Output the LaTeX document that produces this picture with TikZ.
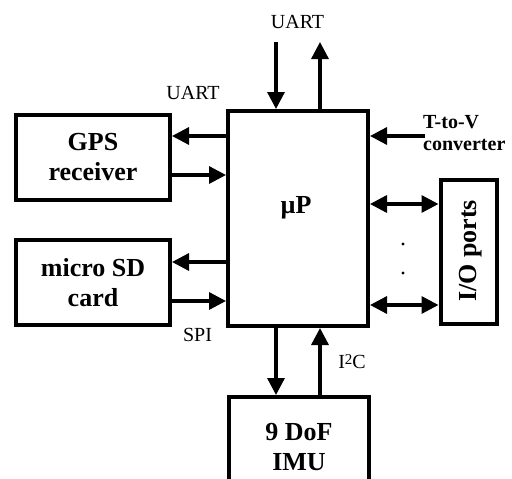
\documentclass[tikz,border=0pt]{standalone}
\usepackage{fontspec}
\setmainfont{Liberation Serif}
\usetikzlibrary{arrows.meta}
\begin{document}
\begin{tikzpicture}[x=1pt,y=-1pt,
  box/.style={draw,line width=4pt,inner sep=0pt,align=center,font=\fontsize{26}{30}\selectfont\bfseries},
  arr/.style={line width=3.3pt,-{Triangle[length=17pt,width=17pt]}},
  darr/.style={line width=3.3pt,{Triangle[length=17pt,width=17pt]}-{Triangle[length=17pt,width=17pt]}},
  lbl/.style={inner sep=0pt,font=\fontsize{20}{22}\selectfont},
  blbl/.style={inner sep=0pt,font=\fontsize{26}{30}\selectfont\bfseries}]
\useasboundingbox (0,0) rectangle (512,479);
% boxes
\node[box,minimum width=154pt,minimum height=85pt] (gps) at (93,157.5) {GPS\\receiver};
\node[box,minimum width=154pt,minimum height=85pt] (sd) at (93,282.5) {micro SD\\card};
\node[box,minimum width=140pt,minimum height=215pt] (mp) at (298,218.5) {};
\node[blbl] (mptext) at (296,208) {µP};
\node[box,minimum width=56.5pt,minimum height=144pt] (io) at (468.75,252) {};
\node[blbl,rotate=90] (iotext) at (471,251) {I/O ports};
\node[box,minimum width=140pt,minimum height=100pt] (imu) at (299,447) {9 DoF\\IMU};
% labels
\node[lbl] (l1) at (297.5,21.5) {UART};
\node[lbl] (l2) at (193,92.5) {UART};
\node[lbl] (l3) at (197.5,335) {SPI};
\node[lbl] (l4) at (352,362) {I\raisebox{4pt}{\fontsize{15}{15}\selectfont 2}C};
\node[lbl,font=\fontsize{20}{22}\selectfont\bfseries,align=left,anchor=west] (tvtext) at (423,133) {T-to-V\\converter};
% free ends
\coordinate (uin) at (276,42);
\coordinate (uout) at (320,42);
\coordinate (tv) at (425,136);
% connectors
\draw[arr] (mp.west |- 0,136) -- (gps.east |- 0,136);
\draw[arr] (gps.east |- 0,175) -- (mp.west |- 0,175);
\draw[arr] (mp.west |- 0,262) -- (sd.east |- 0,262);
\draw[arr] (sd.east |- 0,301) -- (mp.west |- 0,301);
\draw[arr] (uin) -- (uin |- mp.north);
\draw[arr] (mp.north -| uout) -- (uout);
\draw[arr] (tv) -- (tv -| mp.east);
\draw[darr] (mp.east |- 0,204) -- (io.west |- 0,204);
\draw[darr] (mp.east |- 0,305) -- (io.west |- 0,305);
\draw[arr] (mp.south -| 276,0) -- (imu.north -| 276,0);
\draw[arr] (imu.north -| 320,0) -- (mp.south -| 320,0);
% dots
\fill (403,244) circle (1.7);
\fill (403,273) circle (1.7);
\end{tikzpicture}
\end{document}
